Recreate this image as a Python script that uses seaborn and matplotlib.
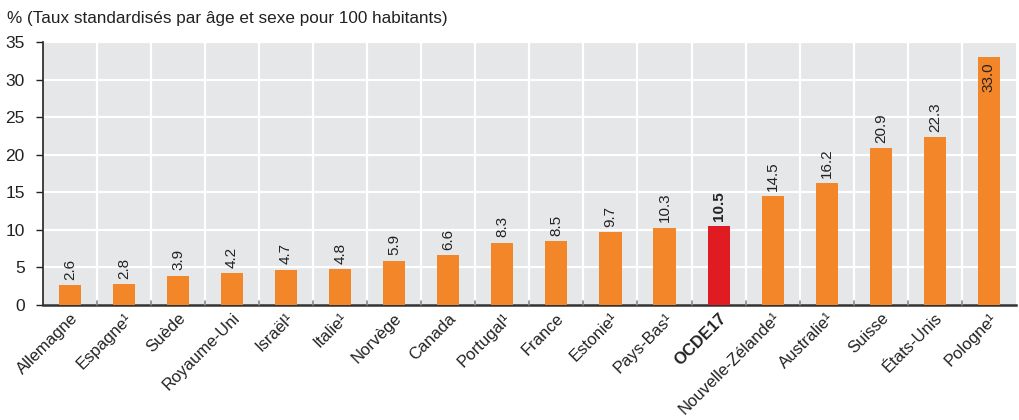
import matplotlib
matplotlib.use("Agg")
import matplotlib.pyplot as plt
import seaborn as sns
import numpy as np
import pandas as pd
from matplotlib import font_manager

countries = ["Allemagne", "Espagne¹", "Suède", "Royaume-Uni", "Israël¹", "Italie¹",
             "Norvège", "Canada", "Portugal¹", "France", "Estonie¹", "Pays-Bas¹",
             "OCDE17", "Nouvelle-Zélande¹", "Australie¹", "Suisse", "États-Unis", "Pologne¹"]
values = [2.6, 2.8, 3.9, 4.2, 4.7, 4.8, 5.9, 6.6, 8.3, 8.5, 9.7, 10.3, 10.5, 14.5, 16.2, 20.9, 22.3, 33.0]
yticks = [0, 5, 10, 15, 20, 25, 30, 35]
ylabel = "% (Taux standardisés par âge et sexe pour 100 habitants)"

sns.set_theme(style="white")
names = {f.name for f in font_manager.fontManager.ttflist}
fam = "Liberation Sans Narrow" if "Liberation Sans Narrow" in names else "Liberation Sans"
plt.rcParams["font.family"] = [fam, "DejaVu Sans"]

df = pd.DataFrame({"pays": countries, "val": values})
orange = "#f4862a"
red = "#e11b22"
palette = {c: (red if c == "OCDE17" else orange) for c in countries}

fig = plt.figure(figsize=(10.19, 4.2), dpi=100)
ax = fig.add_axes([0.042, 0.274, 0.955, 0.626])
ax.set_facecolor("#e6e7e8")
sns.barplot(data=df, x="pays", y="val", hue="pays", palette=palette, width=0.41,
            legend=False, ax=ax, saturation=1, zorder=3, linewidth=0, edgecolor="none")

n = len(countries)
ax.set_xlim(-0.5, n - 0.5)
ax.set_ylim(0, 35)
ax.set_yticks(yticks)
ax.set_yticklabels([str(t) for t in yticks], fontsize=12.5, color="#222222")
for y in yticks[1:]:
    ax.axhline(y, color="white", lw=1.6, zorder=1)
for i in range(n - 1):
    ax.axvline(i + 0.5, color="white", lw=1.6, zorder=1)
    ax.plot([i + 0.5, i + 0.5], [0, 0.5], color="#888888", lw=1.2, zorder=4, clip_on=False)

ax.set_xticks(range(n))
ax.set_xticklabels(countries, rotation=45, ha="right", rotation_mode="anchor", fontsize=12, color="#222222")
for lbl in ax.get_xticklabels():
    if lbl.get_text() == "OCDE17":
        lbl.set_fontweight("bold")
ax.tick_params(axis="x", length=0, pad=4)
ax.tick_params(axis="y", length=5, width=1, color="#222222", direction="out", pad=8, left=True)

for s in ["top", "right"]:
    ax.spines[s].set_visible(False)
ax.spines["left"].set_color("#222222")
ax.spines["left"].set_linewidth(1.2)
ax.spines["bottom"].set_color("#333333")
ax.spines["bottom"].set_linewidth(1.8)
ax.set_xlabel("")
ax.set_ylabel("")

for i, (c, v) in enumerate(zip(countries, values)):
    bold = c == "OCDE17"
    if v > 30:
        ax.text(i, v - 0.7, f"{v:.1f}", rotation=90, ha="center", va="top", fontsize=11,
                color="#222222", zorder=5)
    else:
        ax.text(i, v + 0.7, f"{v:.1f}", rotation=90, ha="center", va="bottom", fontsize=11,
                color="#222222", fontweight="bold" if bold else "normal", zorder=5)

fig.text(0.007, 0.975, ylabel, ha="left", va="top", fontsize=12.3, color="#222222")

fig.savefig("out.png", dpi=100)
